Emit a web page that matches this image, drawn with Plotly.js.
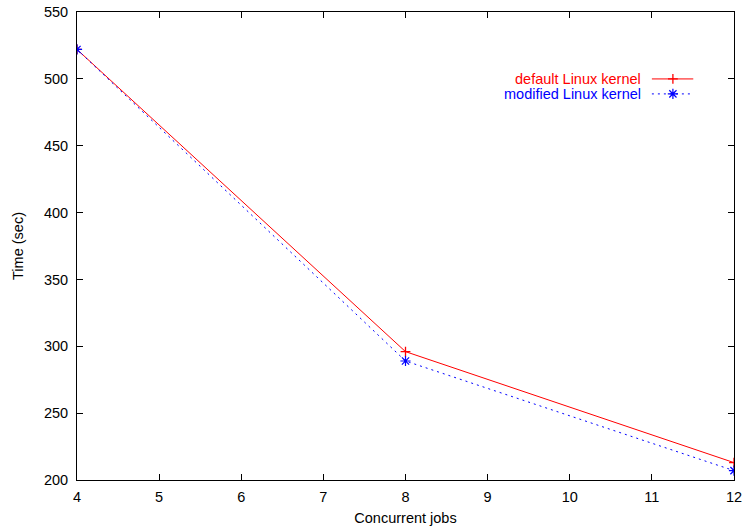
<!DOCTYPE html>
<html>
<head>
<meta charset="utf-8">
<script src="https://cdn.plot.ly/plotly-3.0.1.min.js"></script>
<style>html,body{margin:0;padding:0;background:#fff;}#chart{width:744px;height:528px;}</style>
</head>
<body>
<div id="chart"></div>
<script>
var jobs = [4, 8, 12];
var defaultKernel = [522, 296, 213];
var modifiedKernel = [522, 289, 207];
var seriesNames = ['default Linux kernel', 'modified Linux kernel'];
var xTicks = [4, 5, 6, 7, 8, 9, 10, 11, 12];
var yTicks = [200, 250, 300, 350, 400, 450, 500, 550];

var FONT = 'Liberation Sans, Arial, Helvetica, sans-serif';
var FS = 14.5;

// legend sample geometry (paper fractions)
var lgTextX = 0.861, lgX0 = 0.875, lgX1 = 0.938, lgMX = 0.907;
var lgY = [0.857, 0.825];

var plusMarker = {symbol: 'cross-thin-open', size: 7, color: '#ff0000', line: {color: '#ff0000', width: 1.3}};
var starMarker = {symbol: 'asterisk-open', size: 8.5, color: '#0000ff', line: {color: '#0000ff', width: 1.2}};

var traces = [
  {x: jobs, y: defaultKernel, type: 'scatter', mode: 'lines+markers', name: seriesNames[0],
   line: {color: '#ff0000', width: 1}, marker: plusMarker},
  {x: jobs, y: modifiedKernel, type: 'scatter', mode: 'lines+markers', name: seriesNames[1],
   line: {color: '#0000ff', width: 1, dash: '2px,4px'}, marker: starMarker},
  // legend sample markers on overlay axes (0..1)
  {x: [lgMX], y: [lgY[0]], xaxis: 'x2', yaxis: 'y2', type: 'scatter', mode: 'markers', hoverinfo: 'skip',
   marker: plusMarker},
  {x: [lgMX], y: [lgY[1]], xaxis: 'x2', yaxis: 'y2', type: 'scatter', mode: 'markers', hoverinfo: 'skip',
   marker: starMarker}
];

var axisCommon = {
  showline: true, linecolor: '#000', linewidth: 1, mirror: 'ticks',
  ticks: 'inside', ticklen: 6, tickwidth: 1, tickcolor: '#000',
  showgrid: false, zeroline: false,
  tickfont: {family: FONT, size: FS, color: '#000'}
};

var layout = {
  width: 744, height: 528,
  margin: {l: 77, r: 10, t: 12, b: 48},
  paper_bgcolor: '#fff', plot_bgcolor: '#fff',
  showlegend: false,
  font: {family: FONT, color: '#000'},
  xaxis: Object.assign({}, axisCommon, {
    range: [4, 12], tickvals: xTicks, ticktext: xTicks.map(String),
    ticklabelstandoff: 4,
    title: {text: 'Concurrent jobs', font: {family: FONT, size: FS}, standoff: 8}
  }),
  yaxis: Object.assign({}, axisCommon, {
    range: [200, 550], tickvals: yTicks, ticktext: yTicks.map(String),
    ticklabelstandoff: 5,
    title: {text: 'Time (sec)', font: {family: FONT, size: FS}, standoff: 16}
  }),
  xaxis2: {overlaying: 'x', range: [0, 1], visible: false, fixedrange: true},
  yaxis2: {overlaying: 'y', range: [0, 1], visible: false, fixedrange: true},
  shapes: [
    {type: 'line', xref: 'paper', yref: 'paper', x0: lgX0, x1: lgX1, y0: lgY[0], y1: lgY[0], line: {color: '#ff0000', width: 1}},
    {type: 'line', xref: 'paper', yref: 'paper', x0: lgX0, x1: lgX1, y0: lgY[1], y1: lgY[1], line: {color: '#0000ff', width: 1, dash: '2px,4px'}}
  ],
  annotations: [
    {xref: 'paper', yref: 'paper', x: lgTextX, y: lgY[0], xanchor: 'right', yanchor: 'middle', showarrow: false,
     text: seriesNames[0], font: {family: FONT, size: FS, color: '#ff0000'}},
    {xref: 'paper', yref: 'paper', x: lgTextX, y: lgY[1], xanchor: 'right', yanchor: 'middle', showarrow: false,
     text: seriesNames[1], font: {family: FONT, size: FS, color: '#0000ff'}}
  ]
};

Plotly.newPlot('chart', traces, layout, {staticPlot: true, displayModeBar: false});
</script>
</body>
</html>
